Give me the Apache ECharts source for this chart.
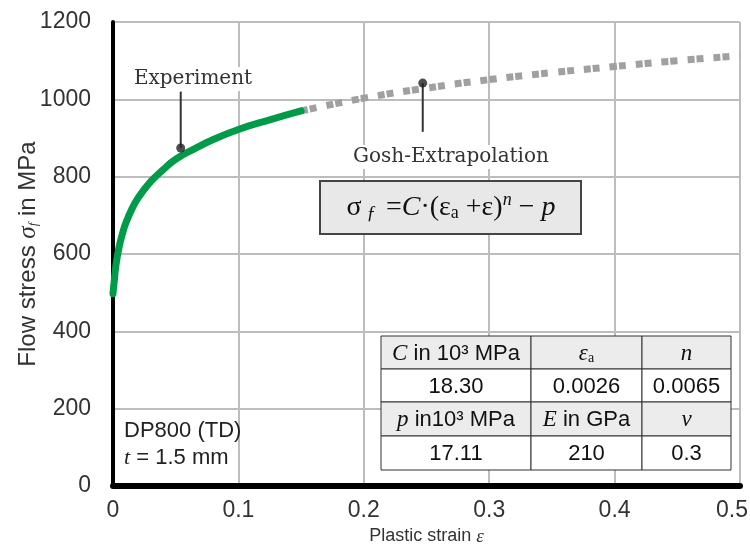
<!DOCTYPE html>
<html>
<head>
<meta charset="utf-8">
<script src="https://cdn.jsdelivr.net/npm/echarts@6/dist/echarts.min.js"></script>
<style>
  html, body { margin: 0; padding: 0; background: #fff; }
  #chart { width: 750px; height: 547px; }
</style>
</head>
<body>
<div id="chart"></div>
<script>
// values
const expStrain = [0, 0.0005, 0.001, 0.002, 0.003, 0.005, 0.0075, 0.01, 0.015, 0.02, 0.03, 0.04, 0.05, 0.065, 0.08, 0.1, 0.125, 0.15];
const expStress = [497, 515, 530, 562, 585, 620, 652, 678, 716, 745, 787, 818, 845, 872, 896, 922, 947, 970];
const extStrain = [0.15, 0.2, 0.25, 0.3, 0.35, 0.4, 0.45, 0.5];
const extStress = [970, 1003, 1029, 1051, 1069, 1085, 1100, 1113];
// pointer lines of the two callouts (top point, bottom point)
const expPointer = [[0.054, 1020], [0.054, 874]];
const extPointer = [[0.247, 1042], [0.247, 916]];
const xTicks = [0, 0.1, 0.2, 0.3, 0.4, 0.5];
const yTicks = [0, 200, 400, 600, 800, 1000, 1200];
// parameter table
const tableRows = [
  ['{i|C} in 10³ MPa', '{i|ε}{sub|a}', '{i|n}'],
  ['18.30', '0.0026', '0.0065'],
  ['{i|p} in10³ MPa', '{i|E} in GPa', '{i|ν}'],
  ['17.11', '210', '0.3']
];

const pairs = (xs, ys) => xs.map((x, i) => [x, ys[i]]);

const chart = echarts.init(document.getElementById('chart'));

const colX = [381, 531, 642, 731];
const rowY = [336, 369, 402, 436, 470];
const tableEls = [];
tableRows.forEach((row, r) => {
  row.forEach((txt, c) => {
    tableEls.push({
      type: 'rect',
      shape: { x: colX[c], y: rowY[r], width: colX[c + 1] - colX[c], height: rowY[r + 1] - rowY[r] },
      style: { fill: r % 2 === 0 ? '#ececec' : '#fff', stroke: '#333', lineWidth: 1 },
      z: 10
    });
    tableEls.push({
      type: 'text',
      x: (colX[c] + colX[c + 1]) / 2,
      y: (rowY[r] + rowY[r + 1]) / 2 + 1,
      style: {
        text: txt,
        align: 'center', verticalAlign: 'middle',
        fontFamily: 'Liberation Sans', fontSize: 22, fill: '#111',
        rich: {
          i: { fontFamily: 'Liberation Serif', fontStyle: 'italic', fontSize: 23, fill: '#111' },
          sub: { fontFamily: 'Liberation Serif', fontSize: 14, fill: '#111', padding: [9, 0, 0, 0] }
        }
      },
      z: 11
    });
  });
});

const option = {
  animation: false,
  grid: { left: 113, right: 10, top: 22, bottom: 61, outerBoundsMode: 'none' },
  xAxis: {
    type: 'value', min: 0, max: 0.5, interval: 0.1,
    name: 'Plastic strain {e|ε}',
    nameLocation: 'middle', nameGap: 41, nameMoveOverlap: false,
    nameTextStyle: {
      fontFamily: 'Liberation Sans', fontSize: 18, color: '#333',
      rich: { e: { fontFamily: 'Liberation Serif', fontStyle: 'italic', fontSize: 19, color: '#333' } }
    },
    axisLine: { lineStyle: { color: '#000', width: 6 } },
    axisTick: { show: false },
    axisLabel: {
      fontFamily: 'Liberation Sans', fontSize: 23, color: '#333', margin: 13,
      formatter: v => {
        const t = +v.toFixed(1);
        if (!xTicks.includes(t)) return '';
        // last label is pulled in a little so it stays inside the picture
        return t === xTicks[xTicks.length - 1] ? '{last|' + t + '}' : String(t);
      },
      rich: { last: { fontFamily: 'Liberation Sans', fontSize: 23, color: '#333', padding: [0, 16, 0, 0] } }
    },
    splitLine: { lineStyle: { color: '#bdbdbd', width: 2 } }
  },
  yAxis: {
    type: 'value', min: 0, max: 1200, interval: 200,
    name: 'Flow stress {s|σ}{f|f} in MPa',
    nameLocation: 'middle', nameGap: 72, nameMoveOverlap: false,
    nameTextStyle: {
      fontFamily: 'Liberation Sans', fontSize: 24, color: '#333',
      rich: {
        s: { fontFamily: 'Liberation Serif', fontStyle: 'italic', fontSize: 25, color: '#333' },
        f: { fontFamily: 'Liberation Serif', fontStyle: 'italic', fontSize: 13, color: '#333', padding: [10, 0, 0, 0] }
      }
    },
    axisLine: { show: true, lineStyle: { color: '#000', width: 4 } },
    axisTick: { show: false },
    axisLabel: {
      fontFamily: 'Liberation Sans', fontSize: 23, color: '#333', margin: 22,
      formatter: v => yTicks.includes(v) ? String(v) : ''
    },
    splitLine: { lineStyle: { color: '#bdbdbd', width: 2 } }
  },
  series: [
    {
      name: 'Gosh-Extrapolation', type: 'line', smooth: true, showSymbol: false,
      data: pairs(extStrain, extStress),
      lineStyle: { color: '#a0a0a0', width: 7, type: [7, 2, 7, 10], cap: 'butt' },
      z: 3
    },
    {
      name: 'Experiment', type: 'line', smooth: true, showSymbol: false,
      data: pairs(expStrain, expStress),
      lineStyle: { color: '#009b48', width: 7, cap: 'round' },
      z: 4
    },
    {
      type: 'line', showSymbol: false, data: expPointer,
      lineStyle: { color: '#333', width: 2 }, z: 5
    },
    {
      type: 'line', showSymbol: false, data: extPointer,
      lineStyle: { color: '#333', width: 2 }, z: 5
    },
    {
      type: 'scatter', symbolSize: 9,
      data: [expPointer[1], extPointer[0]],
      itemStyle: { color: '#222' }, z: 6
    }
  ],
  graphic: [
    {
      type: 'text', x: 193, y: 79, z: 8,
      style: {
        text: 'Experiment', align: 'center', verticalAlign: 'middle',
        fontFamily: 'DejaVu Serif', fontSize: 20, fill: '#333',
        backgroundColor: '#fff', padding: [2, 4]
      }
    },
    {
      type: 'text', x: 451, y: 157, z: 8,
      style: {
        text: 'Gosh-Extrapolation', align: 'center', verticalAlign: 'middle',
        fontFamily: 'DejaVu Serif', fontSize: 20, fill: '#333',
        backgroundColor: '#fff', padding: [2, 4]
      }
    },
    {
      type: 'rect', z: 8,
      shape: { x: 320, y: 181, width: 261, height: 53 },
      style: { fill: '#e8e8e8', stroke: '#444', lineWidth: 2 }
    },
    {
      type: 'text', x: 451, y: 208, z: 9,
      style: {
        text: '{g|σ}{fs| ƒ} ={i|C}·(ε{as|a} +ε){ns|n} − {i|p}',
        align: 'center', verticalAlign: 'middle',
        fontFamily: 'Liberation Serif', fontSize: 28, fill: '#111',
        rich: {
          g: { fontFamily: 'Liberation Serif', fontSize: 28, fill: '#111' },
          i: { fontFamily: 'Liberation Serif', fontStyle: 'italic', fontSize: 28, fill: '#111' },
          fs: { fontFamily: 'Liberation Serif', fontStyle: 'italic', fontSize: 19, fill: '#111', padding: [12, 3, 0, 0] },
          as: { fontFamily: 'Liberation Serif', fontSize: 18, fill: '#111', padding: [11, 0, 0, 0] },
          ns: { fontFamily: 'Liberation Serif', fontStyle: 'italic', fontSize: 18, fill: '#111', padding: [0, 0, 15, 0] }
        }
      }
    },
    {
      type: 'text', x: 124, y: 431, z: 8,
      style: {
        text: 'DP800 (TD)', verticalAlign: 'middle',
        fontFamily: 'Liberation Sans', fontSize: 22, fill: '#222'
      }
    },
    {
      type: 'text', x: 124, y: 458, z: 8,
      style: {
        text: '{i|t} = 1.5 mm', verticalAlign: 'middle',
        fontFamily: 'Liberation Sans', fontSize: 22, fill: '#222',
        rich: { i: { fontFamily: 'Liberation Serif', fontStyle: 'italic', fontSize: 22, fill: '#222' } }
      }
    }
  ].concat(tableEls)
};

chart.setOption(option);
</script>
</body>
</html>
